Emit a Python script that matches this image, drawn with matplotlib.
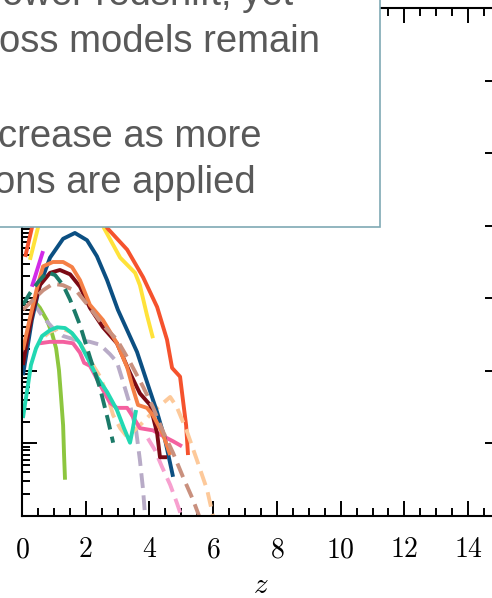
import numpy as np
import matplotlib.pyplot as plt
from matplotlib.ticker import MultipleLocator, LogLocator, FuncFormatter, NullFormatter
from matplotlib.patches import Rectangle

plt.rcParams['mathtext.fontset'] = 'cm'

# redshift and log10 density for each model curve
red_z = [0.10, 0.31, 0.88, 1.66, 2.29, 2.67, 3.30, 3.80, 4.24, 4.55, 4.71, 4.96, 5.05, 5.15, 5.21]
red_lg = [-5.43, -5.03, -4.23, -3.96, -4.30, -5.03, -5.33, -5.71, -6.12, -6.57, -6.96, -7.08, -7.40, -7.75, -8.16]

yellow_z = [0.25, 0.50, 1.04, 1.82, 2.29, 2.57, 3.08, 3.55, 3.70, 3.92, 4.11]
yellow_lg = [-5.47, -5.03, -3.96, -3.68, -4.23, -5.03, -5.44, -5.65, -5.82, -6.23, -6.55]

magenta_z = [0.31, 0.66]
magenta_lg = [-5.84, -5.35]

blue_z = [0.03, 0.16, 0.31, 0.56, 0.88, 1.29, 1.66, 2.04, 2.35, 2.67, 3.01, 3.30, 3.61, 3.95, 4.24, 4.49, 4.74]
blue_lg = [-7.06, -6.71, -6.30, -5.82, -5.44, -5.18, -5.10, -5.20, -5.42, -5.75, -6.16, -6.44, -6.74, -7.19, -7.57, -7.95, -8.46]

orange_z = [0.03, 0.25, 0.47, 0.66, 0.97, 1.29, 1.57, 1.82, 2.13, 2.54, 2.98, 3.30, 3.48, 3.64, 3.92, 4.11, 4.43, 4.65]
orange_lg = [-6.71, -6.27, -5.86, -5.56, -5.50, -5.50, -5.57, -5.75, -6.09, -6.30, -6.62, -6.95, -7.24, -7.47, -7.51, -7.61, -7.88, -8.16]

maroon_z = [0.03, 0.16, 0.35, 0.56, 0.88, 1.19, 1.51, 1.82, 2.13, 2.54, 2.98, 3.39, 3.70, 4.02, 4.24, 4.33, 4.55]
maroon_lg = [-6.92, -6.57, -6.16, -5.82, -5.65, -5.61, -5.67, -5.84, -6.13, -6.40, -6.62, -7.03, -7.31, -7.47, -7.86, -8.19, -8.19]

teal_z = [0.03, 0.25, 0.50, 0.78, 1.04, 1.29, 1.51, 1.82, 2.13, 2.45, 2.70, 2.86]
teal_lg = [-6.09, -5.93, -5.78, -5.64, -5.68, -5.82, -6.02, -6.37, -6.81, -7.24, -7.68, -7.99]

rosy_z = [0.03, 0.35, 0.66, 0.97, 1.29, 1.73, 2.13, 2.54, 2.98, 3.39, 3.80, 4.11, 4.43, 4.74, 5.05, 5.37, 5.60]
rosy_lg = [-6.16, -6.02, -5.89, -5.80, -5.82, -5.91, -6.13, -6.37, -6.57, -6.88, -7.22, -7.50, -7.84, -8.13, -8.46, -8.78, -9.05]

green_z = [0.35, 0.56, 0.78, 0.94, 1.07, 1.16, 1.22, 1.29, 1.32, 1.35]
green_lg = [-6.02, -6.13, -6.30, -6.48, -6.69, -6.99, -7.33, -7.75, -8.16, -8.50]

turq_z = [0.03, 0.09, 0.19, 0.28, 0.44, 0.63, 0.88, 1.10, 1.35, 1.57, 1.82, 2.04, 2.35, 2.67, 2.98, 3.20, 3.39, 3.48, 3.58]
turq_lg = [-7.65, -7.47, -7.19, -6.92, -6.69, -6.52, -6.44, -6.40, -6.41, -6.48, -6.62, -6.81, -7.08, -7.29, -7.54, -7.79, -7.99, -7.79, -7.54]

pink_z = [0.56, 0.88, 1.29, 1.60, 1.82, 1.95, 2.13, 2.45, 2.76, 2.98, 3.30, 3.55, 3.70, 4.11, 4.43, 4.74, 5.02]
pink_lg = [-6.62, -6.60, -6.60, -6.62, -6.75, -6.89, -6.93, -7.19, -7.44, -7.51, -7.51, -7.68, -7.79, -7.82, -7.90, -7.97, -8.04]

peach_z = [0.72, 0.88, 1.19, 1.51, 1.82, 2.13, 2.45, 2.67, 2.86, 3.08, 3.30, 3.70, 4.17, 4.65, 4.86, 5.18, 5.49, 5.81, 6.02]
peach_lg = [-6.52, -6.46, -6.41, -6.46, -6.62, -6.85, -7.08, -7.33, -7.61, -7.79, -7.91, -7.75, -7.54, -7.36, -7.50, -7.84, -8.23, -8.64, -9.05]

lav_z = [0.35, 0.66, 0.97, 1.29, 1.66, 2.13, 2.45, 2.76, 2.98, 3.17, 3.39, 3.58, 3.70, 3.80, 3.87]
lav_lg = [-6.06, -6.26, -6.41, -6.52, -6.57, -6.60, -6.64, -6.77, -6.88, -7.15, -7.47, -7.82, -8.23, -8.64, -9.05]

lpink_z = [3.95, 4.17, 4.39, 4.65, 4.86, 5.04]
lpink_lg = [-7.93, -8.09, -8.32, -8.57, -8.82, -9.05]

note_lines = ['ower redshift, yet', 'oss models remain', 'crease as more', 'ons are applied']

fig = plt.figure(figsize=(4.92, 5.98), dpi=100)
ax = fig.add_axes([22 / 492, 82 / 598, 478 / 492, 508 / 598])

dash = (0, (3.8, 1.9))
curves = [
    (yellow_z, yellow_lg, '#ffe23a', '-'),
    (red_z, red_lg, '#f5522d', '-'),
    (magenta_z, magenta_lg, '#d22ae8', '-'),
    (green_z, green_lg, '#8dc63f', '-'),
    (lav_z, lav_lg, '#b8abc7', dash),
    (peach_z, peach_lg, '#fdc99a', dash),
    (lpink_z, lpink_lg, '#f7a0cf', dash),
    (pink_z, pink_lg, '#f4609f', '-'),
    (turq_z, turq_lg, '#22d8b2', '-'),
    (blue_z, blue_lg, '#0b4f82', '-'),
    (maroon_z, maroon_lg, '#7b0a14', '-'),
    (orange_z, orange_lg, '#f58046', '-'),
    (rosy_z, rosy_lg, '#c9907e', dash),
    (teal_z, teal_lg, '#1b7a68', dash),
]
for z, lg, c, ls in curves:
    ax.plot(z, 10 ** np.array(lg), color=c, ls=ls, lw=2.8, solid_capstyle='butt')

ax.set_yscale('log')
ax.set_xlim(0, 15)
ax.set_ylim(1e-9, 1e-2)
ax.xaxis.set_major_locator(MultipleLocator(2))
ax.xaxis.set_minor_locator(MultipleLocator(0.5))
ax.yaxis.set_major_locator(LogLocator(base=10))
ax.yaxis.set_minor_locator(LogLocator(base=10, subs=np.arange(2, 10)))
ax.yaxis.set_minor_formatter(NullFormatter())
ax.xaxis.set_major_formatter(FuncFormatter(lambda v, p: '$%d$' % v))
ax.tick_params(which='both', direction='in', top=True, right=True, width=1.4,
               labelleft=False, labelsize=20, pad=14)
ax.tick_params(which='major', length=11)
ax.tick_params(which='minor', length=5.5)
for s in ax.spines.values():
    s.set_linewidth(1.5)
ax.set_xlabel('$z$', fontsize=21, labelpad=5.5)

# note box over the upper left of the plot
box = Rectangle((-0.1, 371 / 598), 0.1 + 380 / 492, 0.6, transform=fig.transFigure,
                facecolor='white', edgecolor='#7fa9b4', lw=1.2, zorder=10)
fig.add_artist(box)
note_right = [293, 320, 261, 256]
note_base = [5, 52, 147, 193]
for s, xr, yb in zip(note_lines, note_right, note_base):
    fig.text(xr / 492, 1 - yb / 598, s, ha='right', va='baseline', fontsize=27.5,
             family='Liberation Sans', color='#595959', zorder=11)

fig.savefig('out.png', dpi=100)
